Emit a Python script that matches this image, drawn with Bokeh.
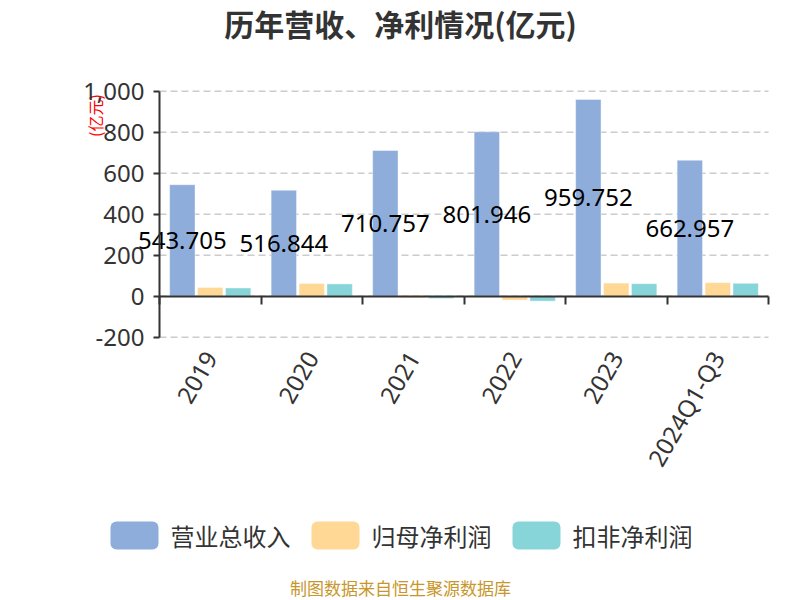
import math
from bokeh.plotting import figure
from bokeh.models import (Range1d, ColumnDataSource, FixedTicker, LinearAxis, CustomJSTickFormatter)
from bokeh.transform import dodge
from bokeh.core.properties import value
from bokeh.embed import file_html
from bokeh.resources import INLINE

# ---- data ----
categories = ["2019", "2020", "2021", "2022", "2023", "2024Q1-Q3"]
revenue = [543.705, 516.844, 710.757, 801.946, 959.752, 662.957]
net_profit = [43, 62, -8, -19, 64, 66]
deducted_profit = [40, 60, -11, -24, 61, 63]
series_names = ["营业总收入", "归母净利润", "扣非净利润"]
y_ticks = [-200, 0, 200, 400, 600, 800, 1000]
y_tick_labels = ["-200", "0", "200", "400", "600", "800", "1,000"]
title_text = "历年营收、净利情况(亿元)"
unit_text = "(亿元)"
source_text = "制图数据来自恒生聚源数据库"

colors = ["#8EADDB", "#FFD896", "#87D5D9"]
CJK = "Noto Sans CJK SC"
LAT = "Noto Sans"
TXT = "#333333"

W, H = 800, 600
N = len(categories)
# pixel geometry of the plotting area
AX_L, AX_R = 159.0, 768.0          # left / right boundary of the category band
Y_TOP_PX, Y_BOT_PX = 90.7, 336.7   # pixel rows of y_ticks[-1] and y_ticks[0]
YMIN, YMAX = y_ticks[0], y_ticks[-1]
CAT_PX = (AX_R - AX_L) / N
Y_PX = (Y_BOT_PX - Y_TOP_PX) / (YMAX - YMIN)


def sx(px):
    return (px - AX_L) / CAT_PX - 0.5


def sy(py):
    return YMAX - (py - Y_TOP_PX) / Y_PX


p = figure(width=W, height=H, output_backend="svg", toolbar_location=None,
           x_range=Range1d(sx(0), sx(W)), y_range=Range1d(sy(H), sy(0)),
           x_axis_location=None, y_axis_location=None, min_border=0)
p.outline_line_color = None
p.background_fill_color = "white"
p.border_fill_color = "white"
p.xgrid.visible = False
p.ygrid.visible = False

xi = list(range(N))
src = ColumnDataSource(dict(xi=xi, rev=revenue, net=net_profit, ded=deducted_profit,
                            half=[v / 2 for v in revenue],
                            lab=[f"{v:.3f}" for v in revenue]))

# dashed horizontal grid over the category band
p.segment(x0=[-0.5] * len(y_ticks), x1=[N - 0.5] * len(y_ticks), y0=y_ticks, y1=y_ticks,
          line_color="#cccccc", line_dash="7 4", line_width=1.5)

offs = [-0.275, 0.0, 0.275]
for c, o, col in zip(["rev", "net", "ded"], offs, colors):
    p.vbar(x=dodge("xi", o), top=c, bottom=0, width=0.25, source=src,
           fill_color=col, line_color="white", line_alpha=0.4, line_width=1)

# value labels (centered at half height of the revenue bar)
p.text(x=dodge("xi", offs[0]), y="half", text="lab", source=src,
       text_font=value(LAT), text_font_size="24px", text_color="black",
       text_align="center", text_baseline="middle")

# y axis at the left boundary of the category band
ya = LinearAxis(fixed_location=-0.5, bounds=(YMIN, YMAX),
                ticker=FixedTicker(ticks=y_ticks),
                major_label_overrides={t: s for t, s in zip(y_ticks, y_tick_labels)})
ya.axis_line_color = TXT
ya.axis_line_width = 2
ya.major_tick_line_color = TXT
ya.major_tick_line_width = 2
ya.major_tick_out = 6
ya.major_tick_in = 0
ya.minor_tick_line_color = None
ya.major_label_text_font = LAT
ya.major_label_text_font_size = "24px"
ya.major_label_text_color = TXT
ya.major_label_standoff = 9
p.add_layout(ya, "left")

# zero line with category boundary ticks
za = LinearAxis(fixed_location=0, bounds=(-0.5, N - 0.5),
                ticker=FixedTicker(ticks=[i - 0.5 for i in range(N + 1)]),
                formatter=CustomJSTickFormatter(code="return ''"))
za.axis_line_color = TXT
za.axis_line_width = 2
za.major_tick_line_color = TXT
za.major_tick_line_width = 2
za.major_tick_out = 8
za.major_tick_in = 0
za.minor_tick_line_color = None
p.add_layout(za, "below")

# category labels below the plotting area
xa = LinearAxis(fixed_location=YMIN, ticker=FixedTicker(ticks=xi),
                major_label_overrides={i: c for i, c in zip(xi, categories)})
xa.axis_line_color = None
xa.major_tick_line_color = None
xa.minor_tick_line_color = None
xa.major_label_orientation = math.pi / 3
xa.major_label_text_font = LAT
xa.major_label_text_font_size = "24px"
xa.major_label_text_color = TXT
xa.major_label_standoff = 10
p.add_layout(xa, "below")

# title, unit, source
p.text(x=[sx(400)], y=[sy(22)], text=[title_text], text_font=value(CJK), text_font_size="30px",
       text_font_style="bold", text_color=TXT, text_align="center", text_baseline="middle")
p.text(x=[sx(94)], y=[sy(115)], text=[unit_text], text_font=value(CJK), text_font_size="16px",
       text_color="#FF0000", angle=math.pi / 2, text_align="center", text_baseline="middle")
p.text(x=[sx(400)], y=[sy(587)], text=[source_text], text_font=value(CJK), text_font_size="17px",
       text_color="#C8962A", text_align="center", text_baseline="middle")

# legend
leg_left = [110, 311, 512]
SW_W, SW_H, LEG_CY = 48, 28, 535
p.quad(left=[sx(v) for v in leg_left], right=[sx(v + SW_W) for v in leg_left],
       top=[sy(LEG_CY - SW_H / 2)] * 3, bottom=[sy(LEG_CY + SW_H / 2)] * 3,
       fill_color=colors, line_color=None, border_radius=6)
p.text(x=[sx(v + SW_W + 12) for v in leg_left], y=[sy(LEG_CY)] * 3, text=series_names,
       text_font=value(CJK), text_font_size="24px", text_color=TXT,
       text_align="left", text_baseline="middle")

open("out.html", "w").write(file_html(p, INLINE))
